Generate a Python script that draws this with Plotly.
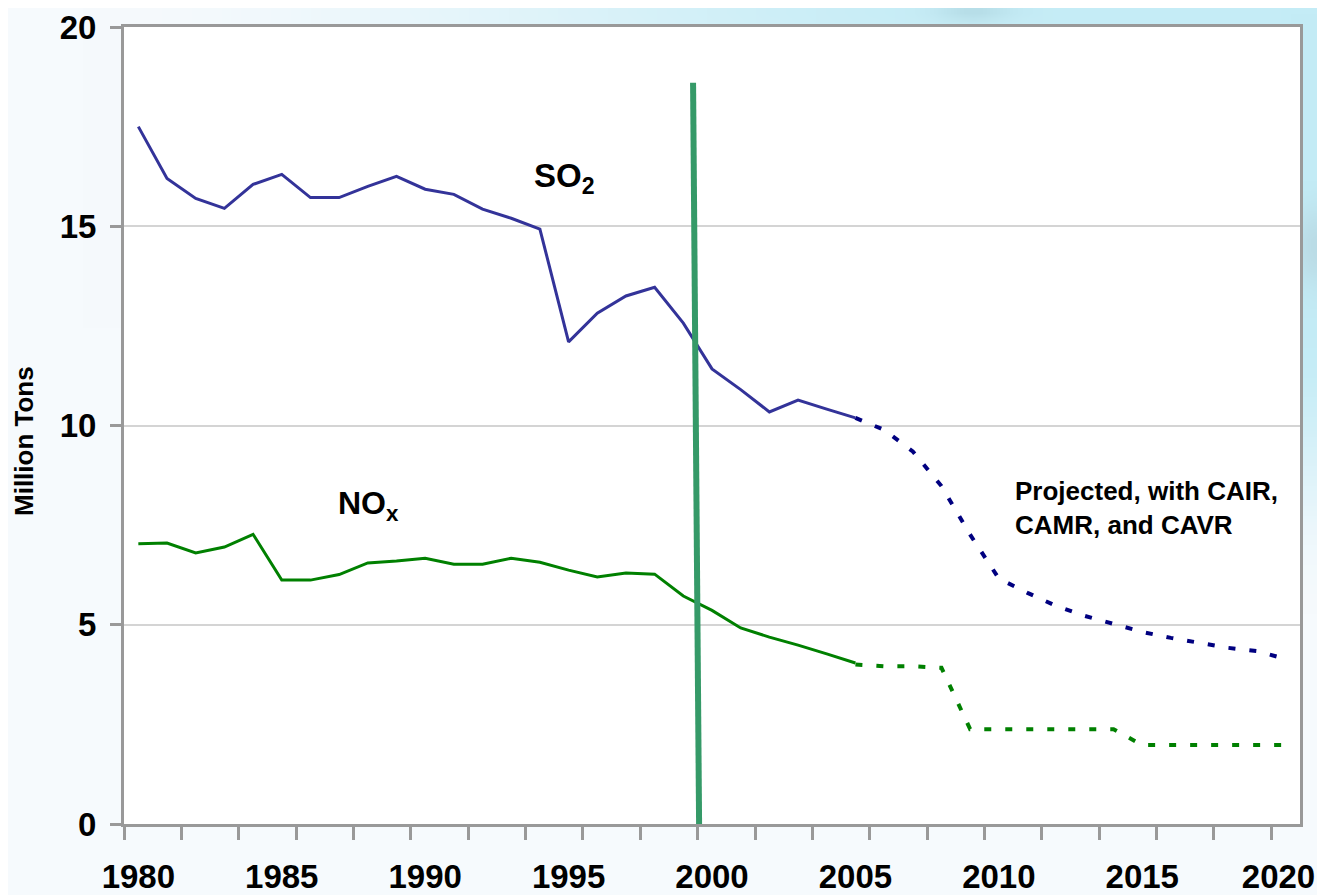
import math
import zlib
import struct
import base64
import plotly.graph_objects as go

# ---------------- data ----------------
years_hist = [1980, 1981, 1982, 1983, 1984, 1985, 1986, 1987, 1988, 1989,
              1990, 1991, 1992, 1993, 1994, 1995, 1996, 1997, 1998, 1999,
              2000, 2001, 2002, 2003, 2004, 2005]
so2_hist = [17.5, 16.2, 15.7, 15.45, 16.05, 16.3, 15.72, 15.72, 16.0, 16.25,
            15.93, 15.8, 15.43, 15.2, 14.93, 12.1, 12.82, 13.25, 13.47, 12.57,
            11.42, 10.9, 10.34, 10.64, 10.41, 10.19]
nox_hist = [7.03, 7.05, 6.8, 6.95, 7.27, 6.12, 6.12, 6.26, 6.55, 6.6,
            6.67, 6.52, 6.52, 6.67, 6.57, 6.37, 6.2, 6.3, 6.27, 5.72,
            5.36, 4.92, 4.69, 4.49, 4.27, 4.04]

years_proj = [2005, 2006, 2007, 2008, 2009, 2010, 2011, 2012, 2013, 2014,
              2015, 2016, 2017, 2018, 2019, 2020]
so2_proj = [10.19, 9.89, 9.35, 8.48, 7.26, 6.16, 5.8, 5.47, 5.22, 5.02,
            4.82, 4.67, 4.54, 4.42, 4.34, 4.14]
nox_proj = [4.0, 3.96, 3.96, 3.92, 2.38, 2.38, 2.38, 2.38, 2.38, 2.38,
            1.98, 1.98, 1.98, 1.98, 1.98, 1.98]

label_years = [1980, 1985, 1990, 1995, 2000, 2005, 2010, 2015, 2020]
label_pos = [1980, 1985, 1990, 1995, 2000, 2005, 2010, 2015, 2019.75]
y_ticks = [0, 5, 10, 15, 20]

divider_x = [1999.34, 1999.55]
divider_y = [18.6, 0]

FONT = "Liberation Sans, Arial, sans-serif"
OFF = 8                      # default page (body) margin of the html page
W, H = 1325 - OFF, 895 - OFF
ML, MT = 124 - OFF, 27 - OFF
PW, PH = 1176, 797
MR, MB = W - ML - PW, H - MT - PH


# ---------------- background gradient image ----------------
def smooth(t):
    t = max(0.0, min(1.0, t))
    return t * t * (3 - 2 * t)


def mix(a, b, w):
    return tuple(a[i] + (b[i] - a[i]) * w for i in range(3))


def bg_color(x, y):
    base = (246, 250, 253)
    cyan = (196, 236, 246)
    wt = smooth((x - 80) / 950.0) * max(0.0, 1 - y / 320.0)
    wr = smooth((x - 1150) / 150.0) * (1 - smooth((y - 330) / 280.0))
    w = max(wt, wr)
    c = mix(base, cyan, w)
    d1 = math.exp(-(((x - 975) / 35.0) ** 2 + ((y - 3) / 14.0) ** 2))
    c = mix(c, (170, 210, 220), 0.6 * d1)
    d2 = math.exp(-(((x - 1325) / 30.0) ** 2 + ((y - 245) / 40.0) ** 2))
    c = mix(c, (182, 212, 222), 0.7 * d2)
    return c


def make_png():
    gw, gh = 133, 90
    raw = b""
    for j in range(gh):
        row = b"\x00"
        for i in range(gw):
            r, g, b = bg_color(OFF + i * W / (gw - 1), OFF + j * H / (gh - 1))
            row += bytes([int(r), int(g), int(b)])
        raw += row

    def chunk(tag, data):
        c = struct.pack(">I", len(data)) + tag + data
        return c + struct.pack(">I", zlib.crc32(tag + data) & 0xffffffff)

    png = b"\x89PNG\r\n\x1a\n"
    png += chunk(b"IHDR", struct.pack(">IIBBBBB", gw, gh, 8, 2, 0, 0, 0))
    png += chunk(b"IDAT", zlib.compress(raw, 9))
    png += chunk(b"IEND", b"")
    return "data:image/png;base64," + base64.b64encode(png).decode()


# ---------------- figure ----------------
fig = go.Figure()

fig.add_trace(go.Scatter(x=years_hist, y=so2_hist, mode="lines",
                         line=dict(color="#333399", width=3), hoverinfo="skip"))
fig.add_trace(go.Scatter(x=years_proj, y=so2_proj, mode="lines",
                         line=dict(color="#000080", width=4, dash="7px,14px"),
                         hoverinfo="skip"))
fig.add_trace(go.Scatter(x=years_hist, y=nox_hist, mode="lines",
                         line=dict(color="#008000", width=3), hoverinfo="skip"))
fig.add_trace(go.Scatter(x=years_proj, y=nox_proj, mode="lines",
                         line=dict(color="#008000", width=4, dash="7px,14px"),
                         hoverinfo="skip"))
fig.add_trace(go.Scatter(x=divider_x, y=divider_y, mode="lines",
                         line=dict(color="#359a68", width=6), hoverinfo="skip"))

ann_font = dict(family=FONT, color="black", weight="bold")

fig.add_annotation(x=1993.72, y=16.2, xref="x", yref="y", xanchor="left",
                   yanchor="middle", showarrow=False,
                   text="SO<sub>2</sub>", font=dict(size=33, **ann_font))
fig.add_annotation(x=1986.88, y=8.0, xref="x", yref="y", xanchor="left",
                   yanchor="middle", showarrow=False,
                   text="NO<sub>x</sub>", font=dict(size=32, **ann_font))
fig.add_annotation(x=2010.5, y=7.93, xref="x", yref="y", xanchor="left",
                   yanchor="middle", showarrow=False, align="left",
                   text="Projected, with CAIR,<br>CAMR, and CAVR",
                   font=dict(size=26, **ann_font))
fig.add_annotation(x=(24 - OFF - ML) / PW, y=(824 - 441) / PH, xref="paper",
                   yref="paper", xanchor="center", yanchor="middle",
                   showarrow=False, textangle=-90, text="Million Tons",
                   font=dict(size=26, **ann_font))

fig.add_layout_image(dict(
    source=make_png(), xref="paper", yref="paper",
    x=-ML / PW, y=1 + MT / PH, sizex=W / PW, sizey=H / PH,
    xanchor="left", yanchor="top", sizing="stretch", layer="below"))

# white plot area above the background picture
fig.add_shape(type="rect", xref="paper", yref="paper", x0=0, x1=1, y0=0, y1=1,
              fillcolor="white", line=dict(width=0), layer="below")

fig.update_layout(
    width=W, height=H, autosize=False,
    margin=dict(l=ML, r=MR, t=MT, b=MB, pad=0),
    paper_bgcolor="#f6fafd", plot_bgcolor="white",
    showlegend=False,
    xaxis=dict(
        range=[1979.5, 2020.5], automargin=False,
        tickmode="array", tickvals=label_pos,
        ticktext=[str(v) for v in label_years],
        ticks="", showgrid=False, zeroline=False,
        showline=True, linecolor="#999999", linewidth=3, mirror=True,
        tickfont=dict(family=FONT, size=33, color="black", weight="bold"),
        ticklabelstandoff=21,
        minor=dict(ticks="outside", tickmode="linear", tick0=1979.5, dtick=2,
                   ticklen=13, tickwidth=3, tickcolor="#999999",
                   showgrid=False),
    ),
    yaxis=dict(
        range=[0, 20], automargin=False, tickmode="array", tickvals=y_ticks,
        ticks="outside", ticklen=11, tickwidth=3, tickcolor="#999999",
        showgrid=True, gridcolor="#d4d4d4", gridwidth=2, zeroline=False,
        showline=True, linecolor="#999999", linewidth=3, mirror=True,
        tickfont=dict(family=FONT, size=33, color="black", weight="bold"),
        ticklabelstandoff=7,
    ),
)

fig.write_html("out.html")
